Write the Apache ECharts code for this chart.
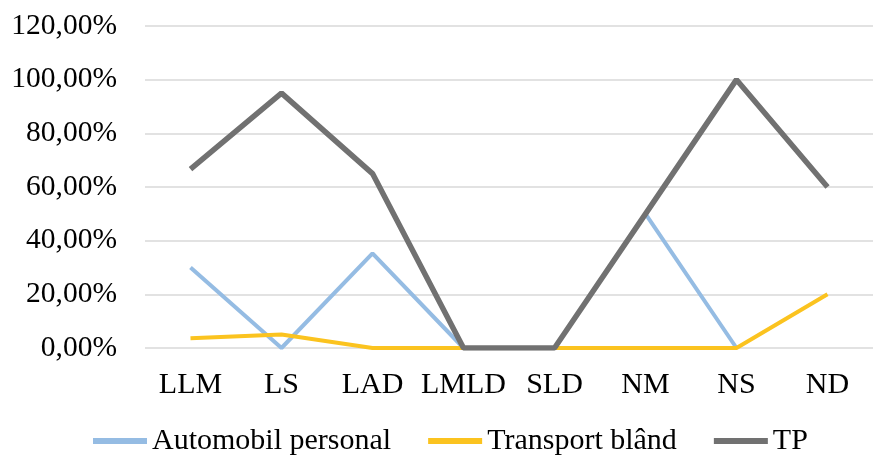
<!DOCTYPE html>
<html>
<head>
<meta charset="utf-8">
<script src="https://cdn.jsdelivr.net/npm/echarts@6/dist/echarts.min.js"></script>
<style>
html,body{margin:0;padding:0;background:#fff;}
#chart{width:873px;height:455px;}
</style>
</head>
<body>
<div id="chart"></div>
<script>
var categories = ['LLM','LS','LAD','LMLD','SLD','NM','NS','ND'];
var automobilPersonal = [30, 0, 35.3, 0, 0, 50, 0, null];
var transportBland = [3.6, 5, 0, 0, 0, 0, 0, 20];
var tp = [66.67, 95, 65, 0, 0, 50, 100, 60];
var seriesNames = ['Automobil personal', 'Transport blând', 'TP'];

var font = '"Liberation Serif", "Times New Roman", serif';
var chart = echarts.init(document.getElementById('chart'));
chart.setOption({
  animation: false,
  backgroundColor: '#ffffff',
  grid: {left: 145, right: 0, top: 26, bottom: 107, containLabel: false},
  legend: {
    left: 93, top: 426, padding: 0,
    itemWidth: 54, itemHeight: 6, itemGap: 37,
    icon: 'rect',
    textStyle: {fontFamily: font, fontSize: 30, color: '#000'},
    data: seriesNames
  },
  xAxis: {
    type: 'category',
    data: categories,
    boundaryGap: true,
    axisLine: {show: false},
    axisTick: {show: false},
    axisLabel: {fontFamily: font, fontSize: 30, color: '#000', margin: 22, interval: 0}
  },
  yAxis: {
    type: 'value',
    min: 0, max: 120, interval: 20,
    axisLine: {show: false},
    axisTick: {show: false},
    splitLine: {lineStyle: {color: '#d9d9d9', width: 1.5}},
    axisLabel: {
      fontFamily: font, fontSize: 29.5, color: '#000', margin: 28,
      formatter: function (v) { return v.toFixed(2).replace('.', ',') + '%'; }
    }
  },
  series: [
    {name: seriesNames[0], type: 'line', data: automobilPersonal, symbol: 'none',
     color: '#95bce3', lineStyle: {width: 4, color: '#95bce3'}},
    {name: seriesNames[1], type: 'line', data: transportBland, symbol: 'none',
     color: '#fbc31f', lineStyle: {width: 4, color: '#fbc31f'}},
    {name: seriesNames[2], type: 'line', data: tp, symbol: 'none',
     color: '#717171', lineStyle: {width: 5.5, color: '#717171'}}
  ]
});
</script>
</body>
</html>
